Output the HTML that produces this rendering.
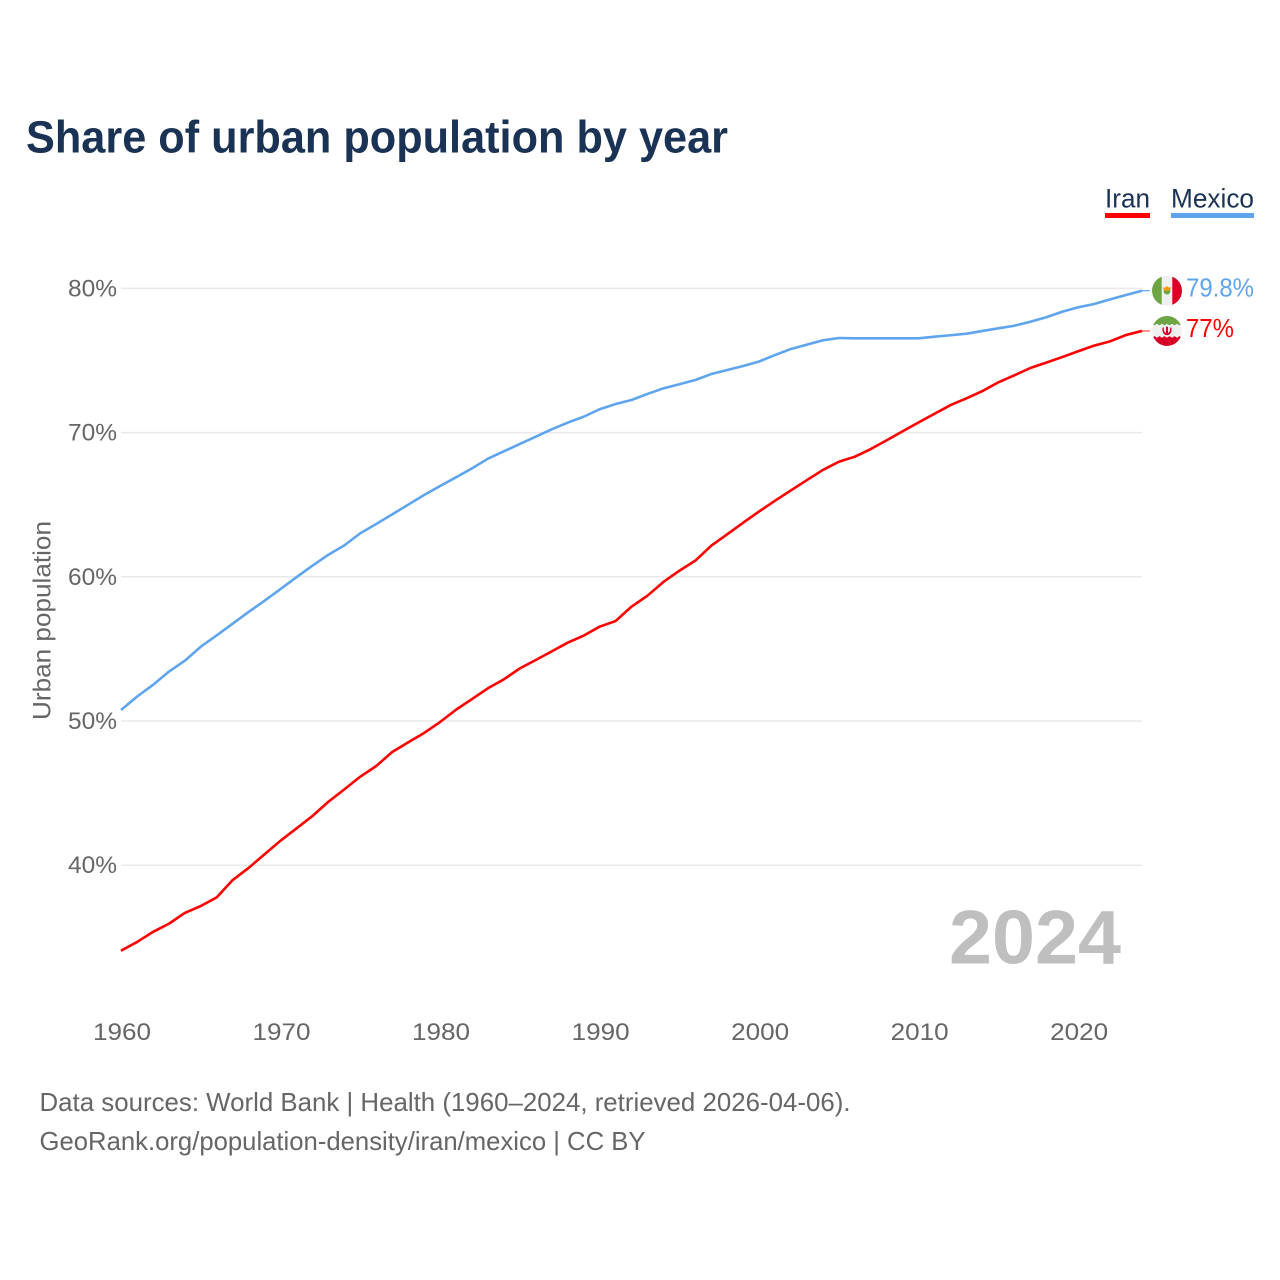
<!DOCTYPE html>
<html lang="en">
<head>
<meta charset="utf-8">
<title>Share of urban population by year</title>
<style>
html,body{margin:0;padding:0;background:#fff;}
svg{display:block;font-family:"Liberation Sans",sans-serif;}
</style>
</head>
<body>
<svg id="chart" width="1280" height="1280" viewBox="0 0 1280 1280" xmlns="http://www.w3.org/2000/svg">
  <defs>
    <clipPath id="flag-clip-mexico"><circle cx="0" cy="0" r="15"/></clipPath>
    <clipPath id="flag-clip-iran"><circle cx="0" cy="0" r="15"/></clipPath>
  </defs>
  <rect x="0" y="0" width="1280" height="1280" fill="#fff"/>
  <text x="26" y="152.5" font-size="45" font-weight="700" fill="#1a3254" textLength="702" lengthAdjust="spacingAndGlyphs">Share of urban population by year</text>

  <g>
    <text x="1105" y="207.5" font-size="26.5" fill="#1a3254" textLength="45" lengthAdjust="spacingAndGlyphs">Iran</text>
    <rect x="1105" y="213" width="45" height="5" fill="#ff0000"/>
  </g>
  <g>
    <text x="1171" y="207.5" font-size="26.5" fill="#1a3254" textLength="83" lengthAdjust="spacingAndGlyphs">Mexico</text>
    <rect x="1171" y="213" width="83" height="5" fill="#5fa5ee"/>
  </g>

  <g id="grid"></g>
  <g id="y-axis"></g>
  <g id="x-axis"></g>
  <text transform="translate(50.5,620.5) rotate(-90)" text-anchor="middle" font-size="25" fill="#666" textLength="199" lengthAdjust="spacingAndGlyphs">Urban population</text>
  <text x="949" y="963.5" font-size="76" font-weight="700" fill="#bfbfbf" textLength="172" lengthAdjust="spacingAndGlyphs">2024</text>
  <g id="series"></g>
  <g id="ends"></g>

  <text x="39.5" y="1111" font-size="26" fill="#666" textLength="811" lengthAdjust="spacingAndGlyphs">Data sources: World Bank | Health (1960–2024, retrieved 2026-04-06).</text>
  <text x="39.5" y="1150" font-size="26" fill="#666" textLength="606" lengthAdjust="spacingAndGlyphs">GeoRank.org/population-density/iran/mexico | CC BY</text>
</svg>
<script>
const firstYear = 1960;
const iranValues = [34.07,34.67,35.37,35.94,36.69,37.17,37.77,38.97,39.81,40.76,41.70,42.55,43.41,44.40,45.26,46.14,46.88,47.85,48.52,49.17,49.93,50.78,51.52,52.27,52.89,53.65,54.23,54.83,55.43,55.92,56.54,56.93,57.93,58.69,59.64,60.42,61.12,62.16,62.95,63.75,64.53,65.28,66.00,66.71,67.41,67.98,68.33,68.86,69.47,70.09,70.71,71.31,71.91,72.38,72.88,73.49,73.97,74.48,74.85,75.24,75.64,76.03,76.33,76.77,77.05];
const mexicoValues = [50.76,51.69,52.50,53.42,54.18,55.15,55.94,56.75,57.56,58.34,59.15,59.97,60.77,61.53,62.18,63.02,63.66,64.33,65.00,65.67,66.30,66.90,67.52,68.19,68.70,69.21,69.72,70.23,70.69,71.10,71.62,71.98,72.26,72.68,73.07,73.35,73.65,74.06,74.34,74.62,74.93,75.38,75.80,76.10,76.40,76.56,76.54,76.54,76.54,76.54,76.54,76.65,76.75,76.86,77.05,77.23,77.41,77.69,78.00,78.38,78.69,78.92,79.24,79.54,79.84];
const yTicks = [40,50,60,70,80];
const xTicks = [1960,1970,1980,1990,2000,2010,2020];
const iranEndLabel = "77%";
const mexicoEndLabel = "79.8%";

const NS = "http://www.w3.org/2000/svg";
const xOf = function (year) { return 121 + (year - 1960) * 15.953; };
const yOf = function (value) { return 288.4 + (80 - value) * 14.42; };
const plotRight = xOf(2024);

function make(tag, parent, attrs, text) {
  const el = document.createElementNS(NS, tag);
  Object.keys(attrs).forEach(function (k) { el.setAttribute(k, attrs[k]); });
  if (text !== undefined) el.textContent = text;
  parent.appendChild(el);
  return el;
}

const gridGroup = document.getElementById("grid");
const yAxisGroup = document.getElementById("y-axis");
yTicks.forEach(function (t) {
  const line = make("line", gridGroup, {x1: 121, x2: plotRight, y1: yOf(t), y2: yOf(t), stroke: "#e9e9e9", "stroke-width": 1.5});
  
  
  const label = make("text", yAxisGroup, {x: 117, y: yOf(t) + 8, "text-anchor": "end", "font-size": 24.5, fill: "#666", textLength: 49, lengthAdjust: "spacingAndGlyphs"}, t + "%");
  
  
});

const xAxisGroup = document.getElementById("x-axis");
xTicks.forEach(function (t) {
  const label = make("text", xAxisGroup, {x: xOf(t) + 1, y: 1040, "text-anchor": "middle", "font-size": 24.5, fill: "#666", textLength: 58, lengthAdjust: "spacingAndGlyphs"}, String(t));
  
  
});

const seriesGroup = document.getElementById("series");
function drawLine(values, color) {
  const pts = values.map(function (v, i) { return xOf(firstYear + i).toFixed(2) + "," + yOf(v).toFixed(2); }).join(" ");
  return make("polyline", seriesGroup, {points: pts, fill: "none", stroke: color, "stroke-width": 2.6, "stroke-linejoin": "round"});
}
const iranLine = drawLine(iranValues, "#ff0000");


const mexicoLine = drawLine(mexicoValues, "#5fa5ee");



const endsGroup = document.getElementById("ends");
const flagX = 1167;

/* Mexico end marker */
const mexicoY = yOf(mexicoValues[mexicoValues.length - 1]);
const mexicoStub = make("line", endsGroup, {x1: plotRight, x2: 1150, y1: mexicoY, y2: mexicoY, stroke: "#5fa5ee", "stroke-width": 1.2});


const mexicoFlag = make("g", endsGroup, {transform: "translate(" + flagX + "," + mexicoY + ")"});


const mexicoClip = make("g", mexicoFlag, {"clip-path": "url(#flag-clip-mexico)"});
make("rect", mexicoClip, {x: -15, y: -15, width: 30, height: 30, fill: "#f0f0f0"});
make("rect", mexicoClip, {x: -15, y: -15, width: 9.7, height: 30, fill: "#6da544"});
make("rect", mexicoClip, {x: 5.3, y: -15, width: 9.7, height: 30, fill: "#d80027"});
make("circle", mexicoClip, {cx: 0, cy: 0.4, r: 3.4, fill: "#6da544"});
make("polygon", mexicoClip, {points: "-4.5,-3.2 -1.8,-3.2 0,-4.7 1.8,-3.2 4.5,-3.2 2.2,0 -2.2,0", fill: "#ff9811"});
const mexicoLabel = make("text", endsGroup, {x: 1186, y: mexicoY + 6, "font-size": 25.5, fill: "#5fa5ee", textLength: 68, lengthAdjust: "spacingAndGlyphs"}, mexicoEndLabel);



/* Iran end marker */
const iranY = yOf(iranValues[iranValues.length - 1]);
const iranStub = make("line", endsGroup, {x1: plotRight, x2: 1150, y1: iranY, y2: iranY, stroke: "#ff5050", "stroke-width": 1.2});


const iranFlag = make("g", endsGroup, {transform: "translate(" + flagX + "," + iranY + ")"});


const iranClip = make("g", iranFlag, {"clip-path": "url(#flag-clip-iran)"});
make("rect", iranClip, {x: -15, y: -15, width: 30, height: 30, fill: "#f0f0f0"});
let greenBand = "-15,-15 15,-15";
let redBand = "-15,15 15,15";
for (let tx = 15; tx >= -15; tx -= 2.5) {
  const tooth = Math.round((15 - tx) / 2.5) % 2;
  greenBand += " " + tx + "," + (-7.2 + tooth * 1.6);
  redBand += " " + tx + "," + (5.2 + (1 - tooth) * 1.6);
}
make("polygon", iranClip, {points: greenBand, fill: "#6da544"});
make("polygon", iranClip, {points: redBand, fill: "#d80027"});
make("path", iranClip, {d: "M-4.5,-3.5 C-5.2,2 -2.5,4.2 0,4.2 C2.5,4.2 5.2,2 4.5,-3.5 L3.2,-3.5 C3.4,0 2,1.8 1,2 L1,-4.2 L-1,-4.2 L-1,2 C-2,1.8 -3.4,0 -3.2,-3.5 Z", fill: "#d80027"});
const iranLabel = make("text", endsGroup, {x: 1186, y: iranY + 6, "font-size": 25.5, fill: "#ff0000", textLength: 48, lengthAdjust: "spacingAndGlyphs"}, iranEndLabel);


</script>
</body>
</html>
